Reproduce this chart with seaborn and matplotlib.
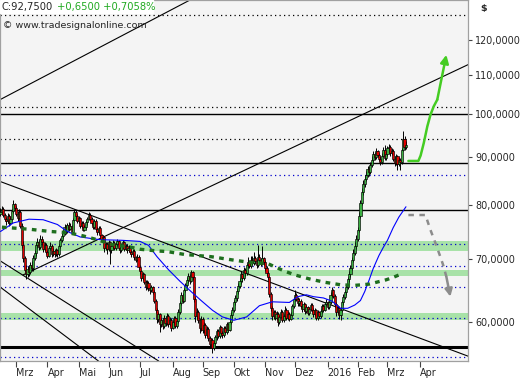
import numpy as np
import pandas as pd
import seaborn as sns
import matplotlib.pyplot as plt
from matplotlib.patches import Rectangle
from matplotlib.ticker import NullLocator, NullFormatter

# daily closes, first bar Feb 13 2015
closes = [78.6, 79.2, 78.0,
          77.2, 76.8, 77.9, 76.5, 77.3,
          78.8, 80.1, 79.4,
          78.2, 77.5, 78.6,
          76.0, 72.5, 70.1,
          68.2, 67.4, 68.3,
          67.8, 69.0, 68.4, 70.2, 71.0,
          72.4, 73.0, 72.1, 73.6, 72.9,
          71.8, 72.5, 71.2, 70.6, 71.9, 72.3, 70.9, 71.4,
          70.8, 71.5, 70.9,
          72.2, 73.4, 74.1, 74.6,
          75.8, 74.9, 76.2, 75.4, 76.0, 74.8,
          77.1, 78.6, 77.9, 76.8, 77.4,
          75.9, 76.5, 75.2, 75.8, 76.6, 77.3,
          78.0, 77.2, 76.5, 75.8, 76.9,
          75.4, 74.8, 75.6, 74.2, 73.5, 73.9,
          72.0,
          72.6, 71.8, 72.9, 71.5, 72.2, 72.8,
          71.9, 72.6, 73.1, 72.0, 71.6, 72.4, 72.9, 71.8, 72.3, 71.5, 72.0,
          71.2, 70.8, 71.4, 70.3, 69.9, 70.4,
          68.7, 67.9, 66.8, 67.4,
          66.2, 65.4, 66.0, 65.1, 64.8, 65.3, 64.6,
          63.2, 61.8, 60.4, 61.1, 59.6,
          60.2, 59.4, 60.6, 59.8, 60.9,
          59.6, 60.3, 59.1, 59.9, 60.5, 59.3, 60.1,
          61.5, 62.8, 64.1, 63.2, 64.8, 65.6, 66.4,
          67.1, 66.3, 67.8, 66.9,
          63.4, 60.8, 61.5,
          60.2, 59.0, 60.4, 58.8, 59.5, 58.1, 58.9,
          57.6, 56.8, 57.3, 56.2, 56.9, 57.8,
          58.6, 57.9, 59.2, 58.4, 58.0, 59.1, 58.5, 59.6, 58.8, 59.9,
          61.0, 61.8, 62.9, 63.6, 64.7, 65.5, 66.3,
          67.4, 66.8, 68.2, 67.6,
          68.9, 69.5, 68.8, 69.9,
          69.3, 70.2, 69.6, 68.9, 70.4, 69.8, 69.2, 70.1, 69.4,
          68.4, 67.6, 66.9,
          64.2, 62.1, 60.8,
          61.4, 60.6, 61.2, 59.9, 60.7, 61.5, 60.3, 60.9, 61.8, 60.6, 61.2, 60.4, 61.0,
          62.3, 63.4, 64.1, 63.5, 62.8,
          63.2, 62.4, 61.9, 62.6, 61.6, 62.2, 61.3, 61.9, 62.5,
          61.8, 61.1, 61.7, 60.6, 61.4, 60.9, 61.6,
          62.3, 61.8, 62.6, 63.0, 62.2, 62.9, 64.1,
          64.8, 63.9, 62.6, 61.5, 62.1, 61.0, 61.8,
          62.9, 63.8, 64.5, 65.3, 66.6,
          67.4, 68.5, 69.8, 71.1,
          72.3, 73.6, 75.2,
          77.9, 80.4, 82.6,
          84.2, 85.3,
          86.1, 87.4, 86.8, 88.2,
          89.4, 90.6, 89.9, 91.2, 90.4, 89.6,
          88.9, 90.3, 91.5, 89.8, 90.7, 91.9,
          92.2, 90.8, 91.4,
          89.6, 88.7, 90.2, 88.4, 89.3, 88.8,
          91.6, 94.1, 92.1, 92.75]

highs = [79.3, 79.8, 79.5,
         78.3, 77.6, 78.4, 78.2, 77.8,
         79.2, 80.9, 80.4,
         79.7, 78.8, 79.1,
         78.9, 76.4, 73.2,
         70.6, 68.9, 68.8,
         68.9, 69.5, 69.6, 70.7, 71.6,
         72.9, 73.8, 73.4, 74.2, 74.0,
         73.3, 72.9, 72.8, 71.6, 72.3, 72.9, 72.6, 71.9,
         71.8, 71.9, 71.8,
         72.6, 73.8, 74.6, 75.2,
         76.3, 76.1, 76.5, 76.6, 76.4, 76.2,
         77.5, 79.2, 78.9, 78.2, 77.9,
         77.7, 76.9, 76.8, 76.2, 77.0, 77.7,
         78.6, 78.3, 77.6, 76.8, 77.3,
         77.2, 75.8, 75.9, 75.9, 74.5, 74.3,
         74.1,
         73.0, 72.9, 73.4, 73.1, 72.6, 73.3,
         73.1, 72.9, 73.5, 73.4, 72.4, 72.8, 73.3, 73.1, 72.7, 72.6, 72.4,
         72.3, 71.5, 71.8, 71.7, 70.6, 70.8,
         70.7, 69.0, 68.2, 67.8,
         67.6, 66.5, 66.4, 66.3, 65.4, 65.7, 65.5,
         64.8, 63.4, 62.0, 61.5, 61.3,
         60.6, 60.5, 61.0, 60.9, 61.3,
         61.2, 60.7, 60.6, 60.3, 60.9, 60.8, 60.5,
         61.9, 63.2, 64.6, 64.4, 65.2, 66.0, 66.9,
         67.6, 67.4, 68.1, 68.0,
         67.1, 63.7, 62.0,
         61.8, 60.5, 60.8, 60.7, 59.9, 59.8, 59.3,
         59.2, 57.9, 57.7, 57.6, 57.2, 58.1,
         58.9, 58.9, 59.5, 59.4, 58.7, 59.4, 59.3, 59.9, 59.8, 60.2,
         61.4, 62.2, 63.3, 64.0, 65.1, 66.0, 66.8,
         67.9, 67.7, 68.7, 68.5,
         69.3, 70.3, 69.8, 70.6,
         70.5, 71.3, 70.6, 70.0, 72.4, 70.9, 70.1, 72.2, 70.4,
         69.8, 68.8, 67.9,
         67.2, 64.5, 62.4,
         61.8, 61.7, 61.6, 61.5, 61.0, 61.9, 61.8, 61.2, 62.3, 62.0, 61.6, 61.5, 61.4,
         62.7, 63.8, 64.9, 64.4, 63.8,
         63.6, 63.5, 62.7, 62.9, 62.8, 62.5, 62.4, 62.2, 62.8,
         62.8, 62.1, 62.0, 61.9, 61.7, 61.6, 61.9,
         62.7, 62.6, 62.9, 63.4, 63.2, 63.2, 64.6,
         65.3, 65.0, 64.2, 62.9, 62.5, 62.4, 62.2,
         63.3, 64.2, 64.9, 65.8, 67.0,
         67.9, 68.9, 70.4, 71.7,
         72.9, 74.2, 75.8,
         78.5, 81.0, 83.4,
         85.0, 86.0,
         86.9, 88.0, 88.1, 88.9,
         90.1, 91.3, 91.0, 91.9, 91.6, 90.8,
         90.1, 90.8, 92.1, 92.7, 91.2, 92.5,
         93.0, 92.6, 91.9,
         91.8, 90.2, 90.7, 90.5, 89.9, 89.8,
         92.0, 96.0, 94.8, 93.5]

lows = [77.8, 78.2, 77.6,
        76.8, 76.2, 76.5, 76.0, 76.2,
        77.0, 78.4, 78.9,
        77.8, 76.9, 77.2,
        75.6, 72.0, 69.5,
        67.8, 66.6, 67.0,
        67.2, 67.5, 67.9, 68.0, 69.8,
        70.6, 72.0, 71.6, 71.8, 72.4,
        71.3, 71.4, 70.8, 70.1, 70.3, 71.5, 70.4, 70.5,
        70.3, 70.5, 70.4,
        70.6, 71.9, 73.0, 73.7,
        74.3, 74.5, 74.6, 75.0, 75.1, 74.4,
        74.5, 76.8, 77.4, 76.4, 76.4,
        75.5, 75.6, 74.9, 74.9, 75.4, 76.2,
        77.0, 76.9, 76.1, 75.3, 75.4,
        75.0, 74.3, 74.5, 73.9, 73.1, 73.1,
        71.2,
        71.6, 70.9, 71.4, 69.2, 71.1, 71.8,
        71.5, 71.6, 72.2, 71.6, 71.0, 71.3, 72.0, 71.4, 71.5, 71.1, 71.2,
        70.8, 70.3, 70.5, 69.9, 69.4, 69.6,
        68.2, 67.4, 66.3, 66.5,
        65.8, 64.9, 65.0, 64.7, 64.3, 64.5, 64.2,
        62.8, 61.3, 59.8, 60.0, 58.5,
        59.2, 58.9, 59.1, 59.4, 59.5,
        59.2, 59.3, 58.7, 58.9, 59.6, 59.0, 59.1,
        59.8, 61.2, 62.5, 62.8, 63.0, 64.5, 65.3,
        66.0, 65.9, 66.1, 66.5,
        63.0, 59.9, 60.4,
        59.8, 58.4, 58.7, 58.3, 58.4, 57.6, 57.8,
        57.2, 56.3, 56.4, 55.5, 55.9, 56.7,
        57.4, 57.6, 57.7, 58.1, 57.6, 57.8, 58.2, 58.2, 58.5, 58.6,
        59.6, 60.6, 61.5, 62.5, 63.2, 64.3, 65.1,
        65.9, 66.2, 66.5, 67.1,
        67.3, 68.5, 68.4, 68.5,
        68.9, 69.0, 69.2, 68.5, 68.7, 69.4, 68.8, 68.9, 69.0,
        68.0, 67.2, 66.4,
        63.8, 61.6, 60.2,
        60.4, 60.2, 60.3, 59.4, 59.6, 60.5, 60.0, 60.0, 60.7, 60.3, 60.3, 60.1, 60.2,
        60.8, 62.0, 63.1, 63.1, 62.4,
        62.4, 62.1, 61.5, 61.6, 61.2, 61.3, 61.0, 61.0, 61.6,
        61.5, 60.7, 60.8, 60.2, 60.3, 60.5, 60.6,
        61.3, 61.5, 61.6, 62.3, 61.9, 61.9, 62.7,
        63.8, 63.6, 62.2, 60.9, 61.1, 60.4, 60.3,
        61.4, 62.5, 63.4, 64.1, 65.0,
        66.2, 67.0, 68.1, 69.4,
        70.7, 71.8, 73.2,
        74.8, 77.4, 79.9,
        82.0, 83.6,
        84.8, 85.6, 85.9, 86.2,
        87.7, 88.9, 89.3, 89.5, 89.9, 89.0,
        88.2, 88.5, 89.9, 89.4, 89.4, 90.3,
        91.3, 90.2, 90.4,
        89.1, 88.0, 88.3, 87.2, 88.0, 87.1,
        88.5, 91.2, 91.6, 91.7]
first_open = 78.2

# blue moving average, read at sample bars
ma_idx = [0, 9, 20, 30, 40, 47, 56, 70, 85, 98, 104, 110, 118, 126, 134, 141, 149, 156,
          164, 173, 182, 191, 203, 209, 215, 220, 227, 233, 239, 244, 249, 253, 256, 259,
          262, 266, 269, 272, 276, 280, 285]
ma_val = [74.9, 76.5, 77.2, 77.1, 76.2, 74.9, 73.9, 73.4, 73.3, 73.1, 72.4, 70.4, 68.2, 66.3,
          64.6, 63.2, 61.7, 60.7, 60.2, 60.7, 62.4, 63.0, 62.9, 63.8, 64.1, 63.8, 63.6, 63.1,
          62.0, 62.0, 62.5, 63.2, 64.6, 66.4, 68.4, 70.6, 72.0, 73.3, 75.6, 77.6, 79.6]

# green dashed slow average
slow_idx = [1, 21, 35, 47, 58, 68, 79, 91, 98, 110, 117, 129, 148, 164, 176, 188, 199, 207,
            218, 228, 239, 249, 259, 271, 276, 283]
slow_val = [75.7, 75.3, 74.9, 74.7, 74.1, 73.4, 72.5, 72.1, 71.7, 71.4, 71.3, 70.8, 70.4,
            69.8, 69.4, 69.2, 68.0, 67.3, 66.6, 66.1, 65.7, 65.6, 65.8, 66.5, 66.9, 67.6]

# horizontal levels
solid_levels = [100.0, 88.7, 79.0]
thick_level = 56.4
black_dotted = [127.7, 101.8, 94.1]
blue_dotted = [86.0, 72.6, 68.8, 65.35, 60.55, 55.0]
zones = [(71.4, 73.2), (67.15, 68.15), (60.25, 61.3)]

# drawn trend lines: (bar, price) anchor pairs
infinite_lines = [((-0.35, 103.6), (133.2, 132.4)),
                  ((17.2, 82.8), (275.2, 59.1)),
                  ((-0.35, 69.7), (110.0, 54.6)),
                  ((-0.35, 65.35), (69.95, 54.3))]
channel_start = (15.8, 67.3)
channel_end = (330.1, 113.2)

# scenario arrows
up_x = [286.7, 293.7, 295.3, 297.5, 300.0, 302.2, 304.5, 307.0, 313.4]
up_y = [89.1, 89.1, 90.3, 93.1, 97.0, 99.8, 101.9, 103.6, 115.7]
down_x = [286.7, 298.7, 302.2, 305.7, 308.7, 311.1, 313.4, 316.2]
down_y = [78.0, 78.0, 75.2, 72.8, 70.7, 69.0, 67.0, 63.8]

month_labels = ['Mrz', 'Apr', 'Mai', 'Jun', 'Jul', 'Aug', 'Sep', 'Okt', 'Nov', 'Dez',
                '2016', 'Feb', 'Mrz', 'Apr']
price_ticks = [60, 70, 80, 90, 100, 110, 120]

sns.set_style('white')
plt.rcParams['font.family'] = ['DejaVu Sans']

df = pd.DataFrame({'close': closes, 'high': highs, 'low': lows})
df['open'] = df['close'].shift(1).fillna(first_open)
df['x'] = np.arange(len(df))
df['high'] = df[['high', 'open', 'close']].max(axis=1)
df['low'] = df[['low', 'open', 'close']].min(axis=1)
up = df['close'] >= df['open']

dates = pd.bdate_range('2015-02-13', periods=340)
months = pd.Series(dates.to_period('M'))
month_pos = list(months.drop_duplicates().index[1:1 + len(month_labels)])

fig = plt.figure(figsize=(5.31, 3.80), dpi=100)
ax = fig.add_axes([0.0, 19 / 380, 468 / 531, 361 / 380])
ax.set_facecolor('#f4f4f4')
ax.set_yscale('log')
ax.set_xlim(-0.35, 328.6)
ax.set_ylim(54.46, 132.4)

for lo, hi in zones:
    ax.axhspan(lo, hi, color='#a8e2a8', lw=0, zorder=1)
for lv in solid_levels:
    ax.axhline(lv, color='black', lw=1.0, zorder=2)
ax.axhline(thick_level, color='black', lw=2.2, zorder=2)
for lv in black_dotted:
    ax.axhline(lv, color='black', lw=0.9, ls=(0, (1, 2.6)), zorder=2)
for lv in blue_dotted:
    ax.axhline(lv, color='#0000cc', lw=0.9, ls=(0, (1, 2.6)), zorder=2)

for p1, p2 in infinite_lines:
    ax.axline(p1, p2, color='black', lw=0.8, zorder=2)
ax.plot([channel_start[0], channel_end[0]], [channel_start[1], channel_end[1]],
        color='black', lw=0.8, zorder=2)

# candles
ax.vlines(df['x'], df['low'], df['high'], color='black', lw=0.7, zorder=3)
body_lo = df[['open', 'close']].min(axis=1)
body_h = (df['close'] - df['open']).abs().clip(lower=0.08)
ax.bar(df['x'], body_h, bottom=body_lo, width=1.5,
       color=np.where(up, '#3cb043', '#e00000'), edgecolor='black', linewidth=0.45, zorder=3)

sns.lineplot(x=ma_idx, y=ma_val, ax=ax, color='#0000ff', lw=0.8, zorder=4)
ax.plot(slow_idx, slow_val, color='#1e6e1e', lw=2.4, ls=(0, (1.4, 1.6)),
        solid_capstyle='butt', dash_capstyle='butt', zorder=4)

ax.plot(up_x[:-1], up_y[:-1], color='#44cc22', lw=1.8, zorder=5)
ax.annotate('', xy=(up_x[-1], up_y[-1]), xytext=(up_x[-2], up_y[-2]),
            arrowprops=dict(arrowstyle='-|>', color='#44cc22', lw=1.8,
                            mutation_scale=12, shrinkA=0, shrinkB=0), zorder=5)
ax.plot(down_x[:-1], down_y[:-1], color='#8c8c8c', lw=1.8, ls=(0, (2.2, 2.2)), zorder=5)
ax.annotate('', xy=(down_x[-1], down_y[-1]), xytext=(down_x[-2], down_y[-2]),
            arrowprops=dict(arrowstyle='-|>', color='#8c8c8c', lw=1.8,
                            mutation_scale=11, shrinkA=0, shrinkB=0), zorder=5)

# axes styling
ax.yaxis.tick_right()
ax.set_yticks(price_ticks)
ax.set_yticklabels([f'{v:.4f}'.replace('.', ',') for v in price_ticks])
ax.yaxis.set_minor_locator(NullLocator())
ax.yaxis.set_minor_formatter(NullFormatter())
ax.tick_params(axis='y', which='major', right=True, left=False, length=3, width=0.8,
               pad=2, labelsize=6.9, color='#444444')
ax.set_xticks(month_pos)
ax.set_xticklabels(month_labels)
ax.tick_params(axis='x', bottom=True, length=4, width=0.8, pad=1, labelsize=6.9,
               color='#444444')
plt.setp(ax.get_xticklabels(), ha='left')
for side in ['left', 'right', 'top', 'bottom']:
    ax.spines[side].set_color('#a0a0a0')
    ax.spines[side].set_linewidth(0.9)

# header
fig.patches.append(Rectangle((0, 1 - 13 / 380), 153 / 531, 13 / 380,
                             transform=fig.transFigure, color='white', zorder=6))
fig.text(1 / 531, 1 - 7 / 380, 'C:92,7500', fontsize=7.2, va='center', zorder=7)
fig.text(57 / 531, 1 - 7 / 380, '+0,6500 +0,7058%', fontsize=7.2, va='center',
         color='#22aa22', zorder=7)
fig.text(3 / 531, 1 - 25 / 380, '\u00a9 www.tradesignalonline.com', fontsize=6.8,
         va='center', zorder=7)
fig.text(480 / 531, 1 - 9 / 380, '$', fontsize=6.8, va='center', fontweight='bold')

fig.savefig('out.png', dpi=100)
